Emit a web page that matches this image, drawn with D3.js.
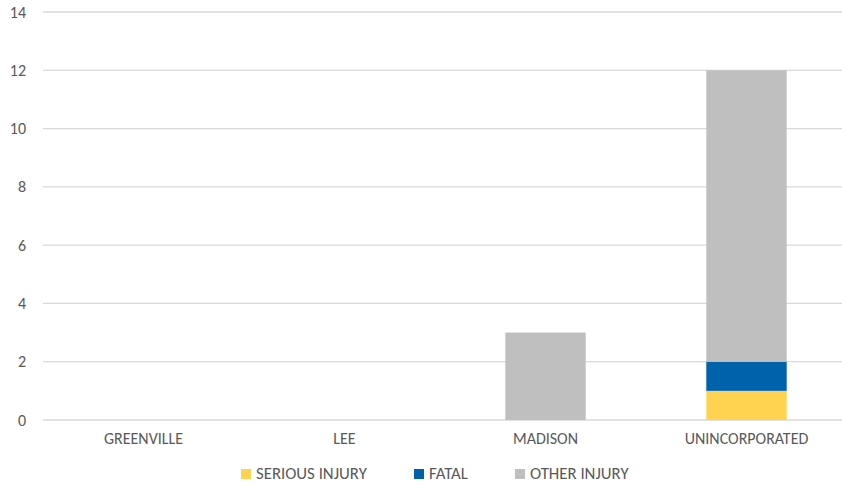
<!DOCTYPE html>
<html>
<head>
<meta charset="utf-8">
<script src="https://cdn.jsdelivr.net/npm/d3@7"></script>
<style>
  body { margin: 0; background: #fff; }
  text { font-family: Carlito, Calibri, "Open Sans", sans-serif; fill: #595959; }
</style>
</head>
<body>
<div id="chart"></div>
<script>
var categories = ["GREENVILLE", "LEE", "MADISON", "UNINCORPORATED"];
var seriesNames = ["SERIOUS INJURY", "FATAL", "OTHER INJURY"];
var seriousInjury = [0, 0, 0, 1];
var fatal = [0, 0, 0, 1];
var otherInjury = [0, 0, 3, 10];
var yTicks = [0, 2, 4, 6, 8, 10, 12, 14];
var colors = ["#FFD34F", "#0062AA", "#BFBFBF"];

var width = 842, height = 485;
var plotLeft = 43, plotTop = 12, plotBottom = 420, gridRight = 842;

var rows = categories.map(function(c, i) {
  return { cat: c, "SERIOUS INJURY": seriousInjury[i], "FATAL": fatal[i], "OTHER INJURY": otherInjury[i] };
});
var stacked = d3.stack().keys(seriesNames)(rows);

var x = d3.scaleBand()
    .domain(categories)
    .range([43, 847])
    .paddingInner(0.6)
    .paddingOuter(0.3);

var y = d3.scaleLinear()
    .domain([0, 14])
    .range([plotBottom, plotTop]);

var color = d3.scaleOrdinal().domain(seriesNames).range(colors);

var svg = d3.select("#chart").append("svg")
    .attr("width", width)
    .attr("height", height);

// gridlines
svg.append("g")
  .selectAll("line")
  .data(yTicks)
  .enter().append("line")
    .attr("x1", plotLeft)
    .attr("x2", gridRight)
    .attr("y1", function(d) { return y(d); })
    .attr("y2", function(d) { return y(d); })
    .attr("stroke", "#D9D9D9")
    .attr("stroke-width", 1.3);

// y axis labels
var yAxis = d3.axisLeft(y).tickValues(yTicks).tickSize(0).tickPadding(0);
var yg = svg.append("g")
    .attr("transform", "translate(26,0)")
    .call(yAxis);
yg.select(".domain").remove();
yg.selectAll("text").style("font-size", "16px").attr("fill", "#595959");

// bars
svg.append("g")
  .selectAll("g")
  .data(stacked)
  .enter().append("g")
    .attr("fill", function(d) { return color(d.key); })
  .selectAll("rect")
  .data(function(d) { return d; })
  .enter().append("rect")
    .attr("x", function(d) { return x(d.data.cat); })
    .attr("width", x.bandwidth())
    .attr("y", function(d) { return y(d[1]); })
    .attr("height", function(d) { return y(d[0]) - y(d[1]); });

// x axis labels
var xAxis = d3.axisBottom(x).tickSize(0).tickPadding(0);
var xg = svg.append("g")
    .attr("transform", "translate(0,433)")
    .call(xAxis);
xg.select(".domain").remove();
xg.selectAll("text").style("font-size", "16px").attr("fill", "#595959");

// legend
var legendX = [241, 414, 515];
var legend = svg.append("g")
  .selectAll("g")
  .data(seriesNames)
  .enter().append("g")
    .attr("transform", function(d, i) { return "translate(" + legendX[i] + ",469)"; });

legend.append("rect")
    .attr("width", 10)
    .attr("height", 10)
    .attr("fill", function(d) { return color(d); });

legend.append("text")
    .attr("x", 15)
    .attr("y", 10)
    .style("font-size", "16.8px")
    .text(function(d) { return d; });
</script>
</body>
</html>
